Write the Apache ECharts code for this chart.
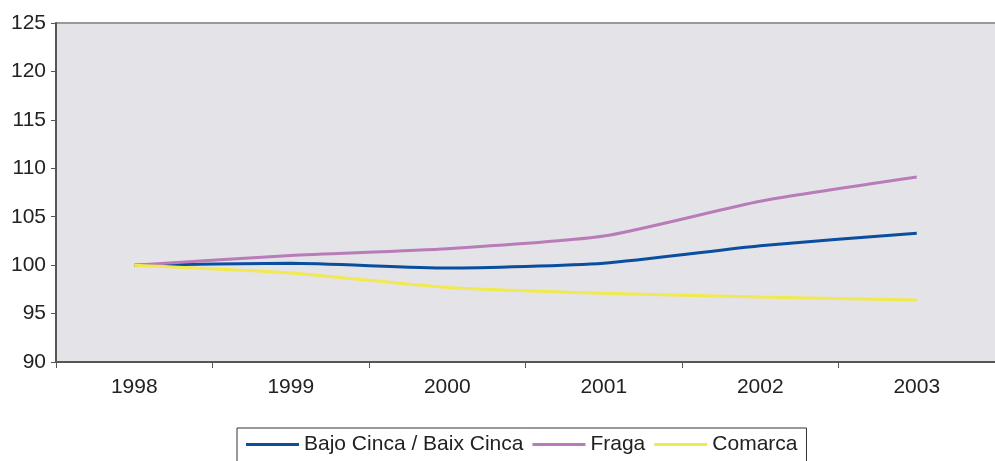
<!DOCTYPE html>
<html><head><meta charset="utf-8">
<script src="https://cdn.jsdelivr.net/npm/echarts@6/dist/echarts.min.js"></script>
<style>html,body{margin:0;padding:0;background:#fff}#c{width:995px;height:461px}</style>
</head><body><div id="c"></div>
<script>
const years = ['1998','1999','2000','2001','2002','2003'];
const bajoCinca = [100, 100.2, 99.7, 100.2, 102.0, 103.3];
const fraga = [100, 101.0, 101.7, 103.0, 106.6, 109.1];
const comarca = [100, 99.2, 97.7, 97.1, 96.7, 96.4];
const seriesNames = ['Bajo Cinca / Baix Cinca', 'Fraga', 'Comarca'];
const colors = ['#0a4f9f', '#b87cb9', '#f0e94f'];

const chart = echarts.init(document.getElementById('c'));
const font = 'Liberation Sans, Arial, sans-serif';
chart.setOption({
  animation: false,
  grid: { left: 56, top: 23, width: 944, height: 339, backgroundColor: '#e4e3e8', show: true, borderWidth: 0 },
  xAxis: {
    type: 'category', data: years, boundaryGap: true,
    axisLine: { lineStyle: { color: '#555', width: 2 } },
    axisTick: { show: true, length: 6, lineStyle: { color: '#555' } },
    axisLabel: { fontFamily: font, fontSize: 21, color: '#222', margin: 15 },
    splitLine: { show: false }
  },
  yAxis: {
    type: 'value', min: 90, max: 125, interval: 5,
    axisLine: { show: true, lineStyle: { color: '#555', width: 2 } },
    axisTick: { show: true, length: 5, lineStyle: { color: '#555' } },
    axisLabel: { fontFamily: font, fontSize: 21, color: '#222', margin: 10 },
    splitLine: { show: false }
  },
  legend: {
    top: 428, left: 237,
    data: seriesNames,
    icon: 'rect', itemWidth: 53, itemHeight: 3, itemGap: 9,
    textStyle: { fontFamily: font, fontSize: 21, color: '#222' },
    borderColor: '#333', borderWidth: 1, padding: [6, 9, 16, 9]
  },
  series: [
    { name: seriesNames[0], type: 'line', data: bajoCinca, smooth: 0.2, symbol: 'none', lineStyle: { color: colors[0], width: 3 }, itemStyle: { color: colors[0] } },
    { name: seriesNames[1], type: 'line', data: fraga, smooth: 0.2, symbol: 'none', lineStyle: { color: colors[1], width: 3 }, itemStyle: { color: colors[1] } },
    { name: seriesNames[2], type: 'line', data: comarca, smooth: 0.2, symbol: 'none', lineStyle: { color: colors[2], width: 3 }, itemStyle: { color: colors[2] } }
  ],
  graphic: [{ type: 'line', shape: { x1: 56, y1: 23, x2: 995, y2: 23 }, style: { stroke: '#999', lineWidth: 2 } }]
});
</script></body></html>
